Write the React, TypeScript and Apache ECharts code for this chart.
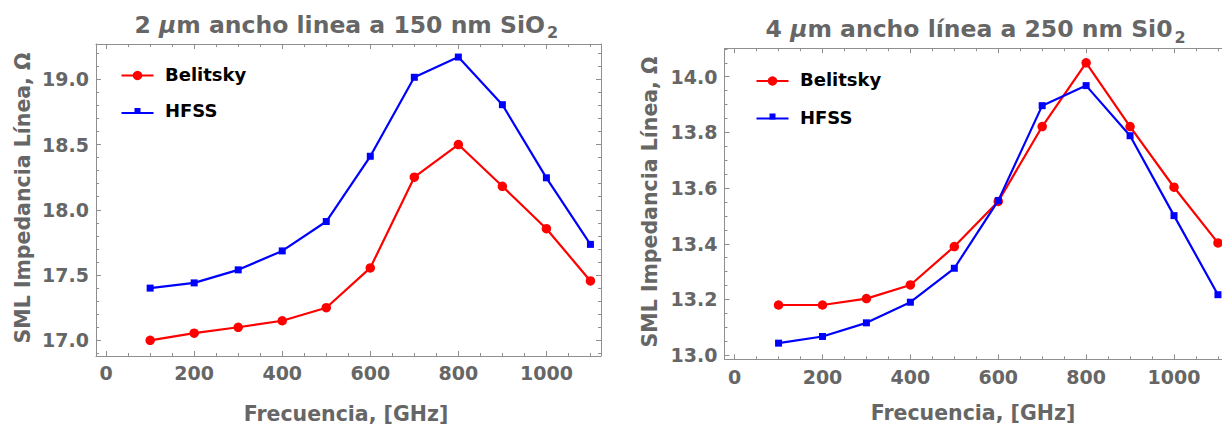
import React, { useEffect, useRef } from "react";
import * as echarts from "echarts";

// ---- data ----
const freq = [100, 200, 300, 400, 500, 600, 700, 800, 900, 1000, 1100];
const leftBelitsky = [17.0, 17.055, 17.1, 17.15, 17.25, 17.555, 18.25, 18.5, 18.18, 17.855, 17.455];
const leftHFSS = [17.4, 17.44, 17.54, 17.685, 17.91, 18.41, 19.015, 19.17, 18.805, 18.245, 17.735];
const rightBelitsky = [13.18, 13.18, 13.203, 13.252, 13.39, 13.552, 13.821, 14.05, 13.821, 13.603, 13.403];
const rightHFSS = [13.043, 13.067, 13.116, 13.19, 13.312, 13.555, 13.896, 13.968, 13.788, 13.501, 13.217];

const xMajorTicks = [0, 200, 400, 600, 800, 1000];
const leftYMajorTicks = [17.0, 17.5, 18.0, 18.5, 19.0];
const rightYMajorTicks = [13.0, 13.2, 13.4, 13.6, 13.8, 14.0];

const leftTitle = "2 {it|μ}m ancho linea a 150 nm SiO";
const rightTitle = "4 {it|μ}m ancho línea a 250 nm Si0";
const titleSub = "2";
const xTitle = "Frecuencia, [GHz]";
const yTitle = "SML Impedancia Línea, Ω";
const seriesNames = ["Belitsky", "HFSS"];

// ---- style ----
const AX = "#8f8f8f";
const TXT = "#666666";
const FONT = "DejaVu Sans";
const RED = "#ff0000";
const BLUE = "#0000ff";
const TICK_FS = 19;

const X_RANGE = { min: -23, max: 1124 };
const LEFT_Y = { min: 16.88, max: 19.27 };
const RIGHT_Y = { min: 12.985, max: 14.102 };

function minorList(from: number, to: number, step: number, majors: number[]) {
  const out: number[] = [];
  const n = Math.round((to - from) / step);
  for (let i = 0; i <= n; i++) {
    const v = Math.round((from + i * step) * 1000) / 1000;
    if (!majors.some((m) => Math.abs(m - v) < 1e-6)) out.push(v);
  }
  return out;
}

const xMinor = minorList(0, 1100, 50, xMajorTicks);
const leftYMinor = minorList(16.9, 19.2, 0.1, leftYMajorTicks);
const rightYMinor = minorList(13.0, 14.1, 0.05, rightYMajorTicks);

function mkAxis(
  gridIndex: number,
  position: string,
  range: { min: number; max: number },
  ticks: number[],
  len: number,
  line: boolean
) {
  return {
    type: "value",
    gridIndex,
    position,
    min: range.min,
    max: range.max,
    axisLine: { show: line, onZero: false, lineStyle: { color: AX, width: 1 } },
    axisTick: {
      show: true,
      inside: true,
      length: len,
      customValues: ticks,
      lineStyle: { color: AX, width: 1 },
    },
    axisLabel: { show: false },
    splitLine: { show: false },
  };
}

function xAxesFor(g: number) {
  return [
    mkAxis(g, "bottom", X_RANGE, xMajorTicks, 5, true),
    mkAxis(g, "bottom", X_RANGE, xMinor, 3, false),
    mkAxis(g, "top", X_RANGE, xMajorTicks, 5, true),
    mkAxis(g, "top", X_RANGE, xMinor, 3, false),
  ];
}

function yAxesFor(g: number, range: { min: number; max: number }, majors: number[], minors: number[]) {
  return [
    mkAxis(g, "left", range, majors, 5, true),
    mkAxis(g, "left", range, minors, 3, false),
    mkAxis(g, "right", range, majors, 5, true),
    mkAxis(g, "right", range, minors, 3, false),
  ];
}

function lineSeries(name: string, values: number[], axisIndex: number, color: string, circle: boolean) {
  return {
    type: "line",
    name,
    xAxisIndex: axisIndex,
    yAxisIndex: axisIndex,
    data: freq.map((f, i) => [f, values[i]]),
    symbol: circle ? "circle" : "rect",
    symbolSize: circle ? 9.5 : 7,
    showSymbol: true,
    lineStyle: { color, width: 2.2 },
    itemStyle: { color },
    z: circle ? 2 : 3,
  };
}

function titleText(text: string, rightX: number, cy: number) {
  const base = { fontFamily: FONT, fontWeight: "bold", fontSize: 23.5, fill: TXT };
  return [
    {
      type: "text",
      x: rightX,
      y: cy,
      style: {
        text,
        ...base,
        align: "right",
        verticalAlign: "middle",
        rich: {
          it: { ...base, fontStyle: "italic" },
        },
      },
    },
    {
      type: "text",
      x: rightX + 2,
      y: cy + 8,
      style: {
        text: titleSub,
        fontFamily: FONT,
        fontWeight: "bold",
        fontSize: 16,
        fill: TXT,
        align: "left",
        verticalAlign: "middle",
      },
    },
  ];
}

function axisTitles(xCx: number, xCy: number, yCx: number, yCy: number) {
  const st = { fontFamily: FONT, fontWeight: "bold", fontSize: 20.5, fill: TXT, align: "center", verticalAlign: "middle" };
  return [
    { type: "text", x: xCx, y: xCy, style: { text: xTitle, ...st } },
    { type: "text", x: yCx, y: yCy, rotation: Math.PI / 2, style: { text: yTitle, ...st } },
  ];
}

function legend(x0: number, y1: number, y2: number, textX: number, t1: number, t2: number) {
  const txt = { fontFamily: FONT, fontWeight: "bold", fontSize: 18, fill: "#000000", align: "left", verticalAlign: "middle" };
  return [
    { type: "line", shape: { x1: x0, y1: y1, x2: x0 + 32, y2: y1 }, style: { stroke: RED, lineWidth: 2.2 } },
    { type: "circle", shape: { cx: x0 + 16, cy: y1, r: 4.75 }, style: { fill: RED } },
    { type: "text", x: textX, y: t1, style: { text: seriesNames[0], ...txt } },
    { type: "line", shape: { x1: x0, y1: y2, x2: x0 + 32, y2: y2 }, style: { stroke: BLUE, lineWidth: 2.2 } },
    { type: "rect", shape: { x: x0 + 13, y: y2 - 5, width: 6, height: 6 }, style: { fill: BLUE } },
    { type: "text", x: textX, y: t2, style: { text: seriesNames[1], ...txt } },
  ];
}

export default function App() {
  const ref = useRef<HTMLDivElement>(null);
  useEffect(() => {
    if (!ref.current) return;
    const chart = echarts.init(ref.current, undefined, { renderer: "svg" });
    const grids = [
      { left: 96, top: 44, width: 505, height: 312 },
      { left: 724.5, top: 48.3, width: 504, height: 311 },
    ];
    chart.setOption({
      animation: false,
      backgroundColor: "#ffffff",
      grid: grids,
      xAxis: [...xAxesFor(0), ...xAxesFor(1)],
      yAxis: [
        ...yAxesFor(0, LEFT_Y, leftYMajorTicks, leftYMinor),
        ...yAxesFor(1, RIGHT_Y, rightYMajorTicks, rightYMinor),
      ],
      series: [
        lineSeries(seriesNames[0], leftBelitsky, 0, RED, true),
        lineSeries(seriesNames[1], leftHFSS, 0, BLUE, false),
        lineSeries(seriesNames[0], rightBelitsky, 4, RED, true),
        lineSeries(seriesNames[1], rightHFSS, 4, BLUE, false),
      ],
    });

    // tick labels, placed through the axes' own scales
    const tickStyle = { fontFamily: FONT, fontWeight: "bold", fontSize: TICK_FS, fill: TXT };
    const tickLabels: any[] = [];
    const addTicks = (axisIdx: number, g: number, yMajors: number[], labelGapBelow: number) => {
      const bottom = grids[g].top + grids[g].height;
      xMajorTicks.forEach((v) => {
        const px = chart.convertToPixel({ xAxisIndex: axisIdx }, v) as number;
        tickLabels.push({
          type: "text",
          x: px,
          y: bottom + labelGapBelow,
          style: { text: String(v), ...tickStyle, align: "center", verticalAlign: "middle" },
        });
      });
      yMajors.forEach((v) => {
        const py = chart.convertToPixel({ yAxisIndex: axisIdx }, v) as number;
        tickLabels.push({
          type: "text",
          x: grids[g].left - 7,
          y: py,
          style: { text: v.toFixed(1), ...tickStyle, align: "right", verticalAlign: "middle" },
        });
      });
    };
    addTicks(0, 0, leftYMajorTicks, 17);
    addTicks(4, 1, rightYMajorTicks, 17.5);

    chart.setOption({
      graphic: [
        ...tickLabels,
        ...titleText(leftTitle, 545, 24.5),
        ...titleText(rightTitle, 1172.5, 29),
        ...axisTitles(346, 414, 22.5, 198),
        ...axisTitles(973, 412.5, 650, 202),
        ...legend(121.5, 75.5, 113, 165, 74.5, 110),
        ...legend(756.5, 81, 118.5, 800, 79.5, 117),
      ],
    });
    return () => chart.dispose();
  }, []);
  return (
    <div style={{ position: "fixed", left: 0, top: 0, width: 1222, height: 425, overflow: "hidden", background: "#fff" }}>
      <div ref={ref} style={{ width: 1240, height: 425 }} />
    </div>
  );
}
